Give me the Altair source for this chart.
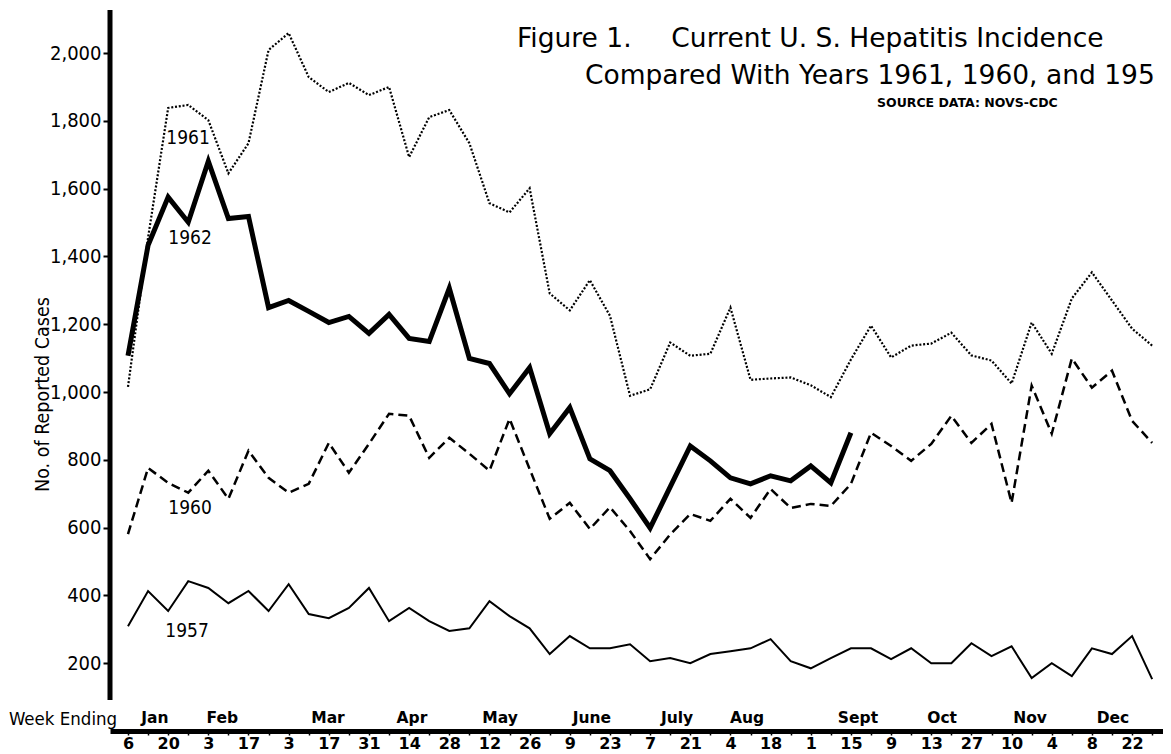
import json
import altair as alt
import pandas as pd

# ---------------- data ----------------
weeks = list(range(1, 53))

cases_1957 = [309, 413, 354, 442, 422, 377, 413, 354, 433, 345,
              333, 363, 422, 324, 363, 324, 295, 303, 383, 339,
              303, 227, 280, 244, 244, 256, 206, 215, 200, 227,
              235, 244, 271, 206, 185, 215, 244, 244, 212, 244,
              200, 200, 259, 221, 250, 156, 200, 162, 244, 227,
              280, 153]

cases_1960 = [581, 776, 732, 703, 768, 685, 827, 747, 703, 729,
              850, 762, 847, 936, 930, 806, 865, 818, 768, 921,
              773, 626, 673, 596, 660, 590, 507, 580, 640, 620,
              685, 629, 714, 658, 670, 664, 729, 880, 841, 797,
              847, 930, 850, 906, 673, 1019, 877, 1099, 1013, 1063,
              915, 850]

cases_1961 = [1015, 1456, 1838, 1847, 1802, 1645, 1734, 2009, 2059, 1929,
              1885, 1912, 1876, 1900, 1693, 1811, 1832, 1734, 1557, 1530,
              1601, 1291, 1241, 1330, 1225, 989, 1008, 1146, 1107, 1113,
              1249, 1036, 1040, 1043, 1020, 985, 1096, 1196, 1102, 1137,
              1143, 1175, 1108, 1093, 1025, 1205, 1113, 1276, 1353, 1270,
              1187, 1137]

cases_1962 = [1107, 1433, 1575, 1501, 1681, 1512, 1518, 1249, 1270, 1238,
              1205, 1223, 1173, 1229, 1158, 1149, 1306, 1099, 1084, 995,
              1072, 877, 954, 803, 768, 685, 599, 720, 841, 797,
              747, 729, 753, 738, 782, 732, 880]

# day-of-month labels printed under every second week
day_labels = ["6", "20", "3", "17", "3", "17", "31", "14", "28", "12", "26",
              "9", "23", "7", "21", "4", "18", "1", "15", "9", "13", "27",
              "10", "4", "8", "22"]

month_names = ["Jan", "Feb", "Mar", "Apr", "May", "June", "July", "Aug",
               "Sept", "Oct", "Nov", "Dec"]
month_weeks = [2.34, 5.7, 10.96, 15.14, 19.53, 24.1, 28.34, 31.83,
               37.35, 41.54, 45.92, 50.05]

series_names = ["1961", "1962", "1960", "1957"]
series_label_weeks = [3.99, 4.09, 4.09, 3.94]
series_label_values = [1749, 1454, 658, 295]

y_ticks = [200, 400, 600, 800, 1000, 1200, 1400, 1600, 1800, 2000]

title_line1 = "Figure 1.\u2003\u2002Current U. S. Hepatitis Incidence"
title_line2 = "Compared With Years 1961, 1960, and 1957"
source_text = "SOURCE DATA: NOVS-CDC"

# ---------------- tables ----------------
rows = []
for yr, vals in [("1957", cases_1957), ("1960", cases_1960),
                 ("1961", cases_1961), ("1962", cases_1962)]:
    for w, v in zip(weeks, vals):
        rows.append({"year": yr, "week": w, "cases": v})
df = pd.DataFrame(rows)

labels_df = pd.DataFrame({"label": series_names, "week": series_label_weeks,
                          "cases": series_label_values})
months_df = pd.DataFrame({"month": month_names, "week": month_weeks})
one = pd.DataFrame({"a": [0]})

# ---------------- layout ----------------
W, H = 1053, 722
NARROW = "'DejaVu Sans Condensed', 'Liberation Sans Narrow', sans-serif"
WIDE = "'DejaVu Sans', Verdana, sans-serif"

label_expr = ("datum.value % 2 == 1 ? " + json.dumps(day_labels) +
              "[(datum.value - 1) / 2] : ''")

xscale = alt.Scale(domain=[0.104, 52.54], nice=False, zero=False)
yscale = alt.Scale(domain=[0, 2130], nice=False, zero=True)

xaxis = alt.Axis(values=weeks, labelExpr=label_expr, title=None, grid=False,
                 domainColor="black", domainWidth=5, tickColor="black",
                 tickSize=4, tickWidth=1.5, labelFont=WIDE,
                 labelFontSize=16, labelFontWeight="bold", labelColor="black",
                 labelPadding=0, labelBaseline="top", labelOverlap=False,
                 labelFlush=False, labelBound=False)

yaxis = alt.Axis(values=y_ticks, format=",.0f", domain=False, grid=False,
                 tickColor="black", tickSize=7, tickWidth=2,
                 labelFont=NARROW, labelFontSize=20, labelColor="black",
                 labelPadding=2, title="No. of Reported Cases",
                 titleFont=NARROW, titleFontSize=19.5, titleFontWeight="normal",
                 titleColor="black", titleX=-68, titleY=385, titleAngle=-90,
                 titleAlign="center", titleBaseline="middle")

x_enc = alt.X("week:Q", scale=xscale, axis=xaxis)
y_enc = alt.Y("cases:Q", scale=yscale, axis=yaxis)

base = alt.Chart(df).encode(x=x_enc, y=y_enc)

line57 = base.transform_filter(alt.datum.year == "1957").mark_line(
    color="black", strokeWidth=2)
line60 = base.transform_filter(alt.datum.year == "1960").mark_line(
    color="black", strokeWidth=2.5, strokeDash=[9, 5])
line61 = base.transform_filter(alt.datum.year == "1961").mark_line(
    color="black", strokeWidth=2.2, strokeDash=[2, 1.8])
line62 = base.transform_filter(alt.datum.year == "1962").mark_line(
    color="black", strokeWidth=5, strokeJoin="miter")

y_line = alt.Chart(one).mark_rule(color="black", strokeWidth=5).encode(
    x=alt.value(0), y=alt.value(1), y2=alt.value(691))

series_text = alt.Chart(labels_df).mark_text(
    font=NARROW, fontSize=19, color="black", align="center", baseline="middle"
).encode(x=x_enc, y=y_enc, text="label:N")

month_text = alt.Chart(months_df).mark_text(
    font=WIDE, fontSize=15.5, fontWeight="bold", color="black",
    align="center", baseline="middle"
).encode(x=x_enc, y=alt.value(709), text="month:N")

week_ending = alt.Chart(one).mark_text(
    font=NARROW, fontSize=18.5, color="black", align="left", baseline="alphabetic",
    text="Week Ending"
).encode(x=alt.value(-101), y=alt.value(716))

t1 = alt.Chart(one).mark_text(
    font=WIDE, fontSize=26.5, color="black", align="left", baseline="alphabetic",
    text=title_line1
).encode(x=alt.value(407), y=alt.value(38))

t2 = alt.Chart(one).mark_text(
    font=WIDE, fontSize=26.5, color="black", align="left", baseline="alphabetic",
    text=title_line2, limit=W - 475, ellipsis="\u200b"
).encode(x=alt.value(475), y=alt.value(75))

src = alt.Chart(one).mark_text(
    font=WIDE, fontSize=12.5, fontWeight="bold", color="black", align="left",
    baseline="alphabetic", text=source_text
).encode(x=alt.value(767), y=alt.value(98))

chart = alt.layer(
    line57, line60, line61, line62, y_line, series_text, month_text,
    week_ending, t1, t2, src
).properties(
    width=W, height=H,
    padding={"left": 102, "top": 1, "right": 0, "bottom": 23},
    autosize=alt.AutoSizeParams(type="none"),
    background="white",
).configure_view(stroke=None)

chart.save("out.html", embed_options={"renderer": "svg", "actions": False})
